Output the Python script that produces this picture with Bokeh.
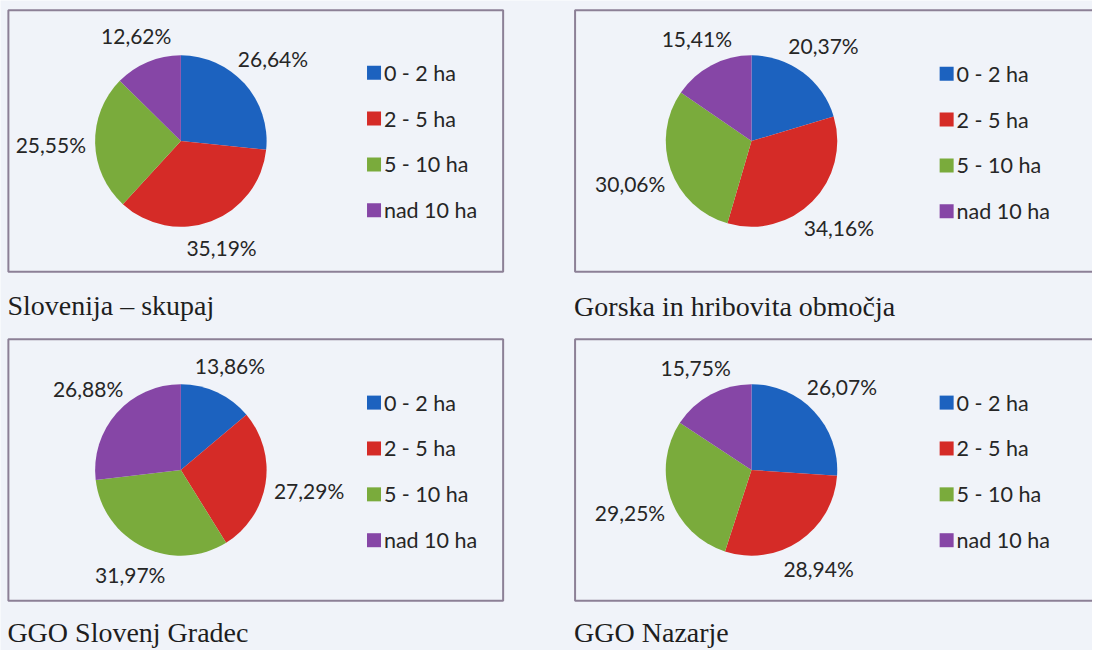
import math
from bokeh.plotting import figure
from bokeh.models import Range1d, ColumnDataSource
from bokeh.core.properties import value
from bokeh.embed import file_html
from bokeh.resources import INLINE

# ---- data ----
categories = ["0 - 2 ha", "2 - 5 ha", "5 - 10 ha", "nad 10 ha"]
colors = ["#1c62bf", "#d52b27", "#7aab3c", "#8646a6"]
slovenija = [26.64, 35.19, 25.55, 12.62]
gorska = [20.37, 34.16, 30.06, 15.41]
slovenj_gradec = [13.86, 27.29, 31.97, 26.88]
nazarje = [26.07, 28.94, 29.25, 15.75]
titles = ["Slovenija \u2013 skupaj", "Gorska in hribovita obmo\u010dja",
          "GGO Slovenj Gradec", "GGO Nazarje"]
series = [slovenija, gorska, slovenj_gradec, nazarje]

# ---- layout (reference pixel coords, y downward) ----
W, H = 1092, 650
panels = [
    dict(box=(8, 10, 510, 278), c=(183, 144), lx=379, ly=74, cap=(7, 312)),
    dict(box=(583, 10, 1125, 278), c=(762, 144), lx=960, ly=75, cap=(582, 314)),
    dict(box=(8, 347, 510, 615), c=(183, 481), lx=379, ly=412, cap=(7, 648)),
    dict(box=(583, 347, 1125, 615), c=(762, 481), lx=960, ly=412, cap=(582, 648)),
]
R = 87
BG = "#f0f3f9"

def Y(v):
    return 666 - v

p = figure(width=W, height=H, x_range=Range1d(0, 1108), y_range=Range1d(0, 666),
           output_backend="svg", toolbar_location=None, min_border=0)
p.axis.visible = False
p.grid.visible = False
p.outline_line_color = None
p.background_fill_color = BG
p.border_fill_color = BG

for vals, title, pn in zip(series, titles, panels):
    x0, y0, x1, y1 = pn["box"]
    p.quad(left=x0, right=x1, top=Y(y0), bottom=Y(y1), fill_color=None,
           line_color="#8c8096", line_width=2)
    cx, cy = pn["c"]
    total = sum(vals)
    starts, ends, lxs, lys, labels = [], [], [], [], []
    a = 90.0
    for v in vals:
        sweep = v / total * 360.0
        starts.append(math.radians(a))
        ends.append(math.radians(a - sweep))
        mid = math.radians(a - sweep / 2)
        d = R + 21 + 24 * abs(math.cos(mid))
        lxs.append(cx + d * math.cos(mid))
        lys.append(Y(cy) + d * math.sin(mid))
        labels.append(("%.2f%%" % v).replace(".", ","))
        a -= sweep
    src = ColumnDataSource(dict(s=starts, e=ends, color=colors))
    p.wedge(x=cx, y=Y(cy), radius=R, start_angle="s",
            end_angle="e", direction="clock", fill_color="color",
            line_color=None, source=src)
    p.text(x=lxs, y=lys, text=labels, text_font=value("Lato"),
           text_font_size=value("21px"), text_align="center",
           text_baseline="middle", text_color="#262626")
    lx, ly = pn["lx"], pn["ly"]
    ys = [Y(ly + 47 * i) for i in range(4)]
    p.scatter(x=[lx] * 4, y=ys, marker="square", size=14, fill_color=colors,
              line_color=None)
    p.text(x=[lx + 10] * 4, y=ys, text=categories, text_font=value("Lato"),
           text_font_size=value("21.5px"), text_align="left",
           text_baseline="middle", text_color="#262626")
    capx, capy = pn["cap"]
    p.text(x=[capx], y=[Y(capy)], text=[title], text_font=value("Liberation Serif"),
           text_font_size=value("28px"), text_align="left",
           text_baseline="middle", text_color="#1e1e1e")

open("out.html", "w").write(file_html(p, INLINE))
